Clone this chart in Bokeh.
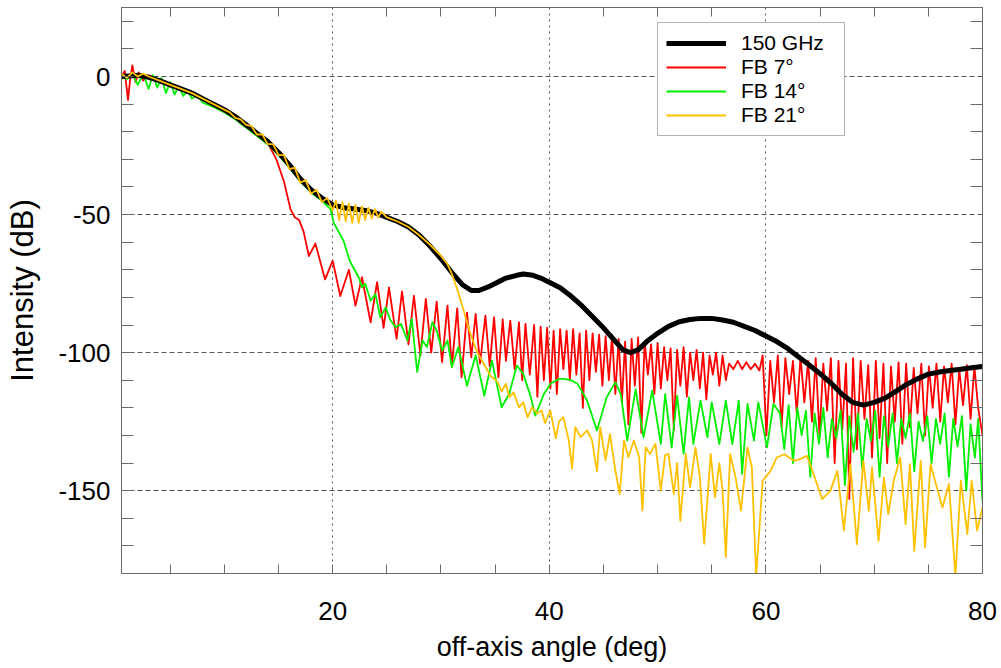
from bokeh.plotting import figure
from bokeh.models import (LinearAxis, Legend, LegendItem, SingleIntervalTicker,
                          FixedTicker, Range1d)
from bokeh.embed import file_html
from bokeh.resources import INLINE

# ---------------- data ----------------
black_pts = [(0.5, 0), (2, 0.5), (3, -0.3), (4, -1.5), (5, -3), (6, -4.5), (7, -6),
             (8, -8), (9, -10), (10, -12), (11, -14.5), (12, -17.5), (13, -20.5),
             (14, -23.5), (15, -27.5), (16, -32), (17, -37), (18, -41), (19, -44),
             (20, -46.5), (21, -47.5), (22, -48), (23, -48.5), (24, -49.5), (25, -51),
             (26, -52.5), (27, -54.5), (28, -57.5), (29, -61.5), (30, -66), (31, -71),
             (32, -75.5), (32.8, -77.5), (33.5, -77.5), (34.3, -76.3), (35, -75),
             (36, -73), (37, -72), (37.6, -71.5), (38.5, -72), (39.2, -73), (40, -74.5),
             (41, -76.5), (42, -79.5), (43, -83), (44, -87), (45, -91), (46, -95.5),
             (46.8, -99), (47.5, -100), (48.2, -99), (49, -96), (50, -93), (51, -90.5),
             (52, -88.8), (53, -88), (54, -87.6), (55, -87.6), (56, -88.2), (57, -89),
             (58, -90.5), (59, -92), (60, -94), (61, -96), (62, -98.5), (63, -101.5),
             (64, -104.5), (65, -107.6), (66, -111), (67, -115), (68, -118), (69, -119),
             (70, -118), (71, -116.5), (72, -114), (73, -111.5), (74, -109.5),
             (75, -107.8), (76, -107), (77, -106.5), (78, -106), (79, -105.5), (80, -105)]

red_pts = [(0.5, 0), (0.8, 2), (1.1, -8.5), (1.3, -1), (1.5, 4), (1.8, -2), (2.1, 1.5),
           (2.5, -1.5), (3.0, 0.5), (3.5, -0.5), (4, -1.5), (5, -3), (6, -4.5), (7, -6),
           (8, -8), (9, -10), (10, -12), (11, -14.5), (11.5, -17), (12, -17.5),
           (12.5, -19), (13, -20.5), (13.5, -22), (14, -24),
           (14.8, -30), (15.5, -38), (16.1, -48), (16.5, -51), (16.9, -52), (17.3, -56),
           (17.8, -65), (18.4, -60.5), (19.3, -73.5), (20.0, -66.7), (20.7, -79.5),
           (21.5, -70), (22.1, -83), (22.7, -72.7), (23.5, -89), (24.1, -74.5),
           (24.7, -91), (25.2, -76.4), (25.9, -95), (26.4, -77.8), (27.0, -97),
           (27.5, -79.4), (28.1, -101), (28.6, -80.5), (29.1, -100), (29.6, -81.5),
           (30.1, -103.5), (30.6, -83), (31.0, -105), (31.5, -84), (31.9, -109),
           (32.4, -85.5), (32.8, -101.7), (33.2, -86), (33.6, -104), (34.1, -86.6),
           (34.5, -105), (34.9, -87.2), (35.3, -109), (35.7, -88), (36.0, -103),
           (36.4, -88.4), (36.8, -106), (37.2, -89), (37.5, -110), (37.8, -89.6),
           (38.2, -108), (38.6, -90), (38.9, -116), (39.2, -90.6), (39.5, -110),
           (39.8, -91), (40.1, -113), (40.4, -92), (40.7, -115), (41.0, -91.5),
           (41.3, -106), (41.6, -92), (41.9, -110), (42.2, -91.5), (42.5, -108),
           (42.8, -93), (43.1, -120), (43.4, -92), (43.7, -110), (44.0, -93),
           (44.3, -107), (44.6, -93.5), (44.9, -112), (45.2, -94), (45.5, -110),
           (45.8, -93.5), (46.1, -115), (46.4, -95), (46.7, -118), (47.0, -96),
           (47.3, -126), (47.6, -95), (47.9, -112), (48.2, -94.5), (48.5, -129),
           (48.8, -96), (49.1, -108), (49.4, -97), (49.7, -115), (50.0, -96.5),
           (50.3, -113), (50.6, -98), (50.9, -110), (51.2, -98.5), (51.5, -128),
           (51.8, -99), (52.1, -112), (52.4, -98), (52.7, -116), (53.0, -100),
           (53.3, -110), (53.6, -99), (53.9, -113), (54.2, -100), (54.5, -117),
           (54.8, -101), (55.1, -108), (55.4, -100), (55.7, -112), (56.0, -101),
           (56.3, -110), (56.6, -104), (57.0, -106), (57.4, -103), (57.8, -106),
           (58.2, -103.5), (58.6, -106), (59.0, -104), (59.4, -106.5), (59.7, -101),
           (60.05, -130), (60.4, -103), (60.75, -118), (61.1, -101), (61.45, -127),
           (61.8, -102), (62.15, -115), (62.5, -103), (62.85, -122), (63.2, -101.5),
           (63.55, -118), (63.9, -103), (64.25, -125), (64.6, -102), (64.95, -130),
           (65.3, -104), (65.65, -121), (66.0, -102), (66.35, -140), (66.7, -103),
           (67.05, -128), (67.4, -104), (67.7, -153), (68.05, -102), (68.4, -135),
           (68.75, -103), (69.1, -124), (69.45, -104.5), (69.8, -138), (70.15, -103),
           (70.5, -131), (70.85, -104), (71.2, -140), (71.55, -105), (71.9, -125),
           (72.25, -103.5), (72.6, -133), (72.95, -104), (73.3, -127), (73.65, -105.5),
           (74.0, -122), (74.35, -104), (74.7, -130), (75.05, -105), (75.4, -120),
           (75.75, -104), (76.1, -125), (76.45, -105), (76.8, -118), (77.15, -104),
           (77.5, -126), (77.85, -106), (78.2, -119), (78.55, -104.5), (78.9, -124),
           (79.25, -105), (79.6, -120), (80.0, -130)]

green_pts = [(0.5, 0), (1.0, -1), (1.5, 1), (2.0, -3), (2.5, 1), (3.0, -4.5), (3.4, 0.5),
             (3.8, -4), (4.2, -0.5), (4.6, -6), (5.0, -2), (5.4, -6.5), (5.8, -3.5),
             (6.2, -7), (6.6, -5), (7.0, -8), (7.5, -6.5), (8.0, -9.5), (9, -11),
             (10, -13), (11, -15.5), (12, -18.5), (13, -21.5), (14, -24.5), (15, -28.5),
             (16, -33), (17, -38), (18, -42), (19, -45), (19.8, -48), (20.1, -53),
             (21, -59.5), (21.6, -67), (22.4, -72.7), (22.7, -76.3), (23.0, -75),
             (23.5, -81.2), (23.95, -78.8), (24.4, -87.2), (24.9, -83.6), (25.3, -88),
             (25.8, -90.8), (26.3, -89.6), (26.9, -95.6), (27.3, -87.8), (27.8, -107),
             (28.3, -95.6), (28.7, -98), (29.2, -89), (29.6, -92), (30.1, -99.3),
             (30.6, -95.6), (31.0, -105.3), (31.6, -98), (32.4, -112), (33.2, -101),
             (34.0, -115.6), (34.7, -102.9), (35.6, -119.8), (36.3, -115), (37.0, -104.7),
             (37.6, -107.7), (38.3, -116.2), (38.7, -122.8), (39.5, -115), (40.1, -111.3),
             (40.9, -109.5), (41.3, -109.5), (42.0, -110), (42.6, -111.3), (43.5, -117.4),
             (44.4, -128.2), (45.3, -116.2), (46.1, -110.7), (46.6, -115), (47.2, -131.9),
             (47.97, -113.2), (48.7, -130.7), (49.5, -113.8), (50.3, -133.1), (50.7, -115),
             (51.3, -134.3), (51.8, -115.6), (52.4, -136.7), (52.9, -116.2), (53.3, -133.1),
             (53.96, -117.4), (54.6, -130.7), (55.0, -118), (55.7, -133.1), (56.3, -117.4),
             (56.9, -133.1), (57.5, -117.4), (57.8, -143.9), (58.3, -118.6), (58.9, -131.9),
             (59.3, -118), (60.1, -134.3), (60.7, -118.6), (61.3, -122), (61.7, -135),
             (62.1, -119), (62.5, -140), (62.9, -120), (63.3, -130), (63.7, -121),
             (64.1, -145), (64.5, -122), (64.9, -133), (65.3, -120), (65.7, -138),
             (66.1, -124), (66.5, -131), (66.9, -121), (67.3, -148), (67.7, -123),
             (68.1, -136), (68.5, -122), (68.9, -142), (69.3, -124), (69.7, -132),
             (70.1, -121), (70.5, -145), (70.9, -123), (71.3, -134), (71.7, -122),
             (72.1, -140), (72.5, -124), (72.9, -131), (73.3, -122), (73.7, -143),
             (74.1, -125), (74.5, -132), (74.9, -123), (75.3, -140), (75.7, -124),
             (76.1, -133), (76.5, -122), (76.9, -145), (77.3, -124), (77.7, -134),
             (78.1, -123), (78.5, -150), (78.9, -126), (79.3, -138), (79.6, -124),
             (80.0, -154)]

yellow_pts = [(0.5, 1), (1.0, -0.5), (1.5, 1.5), (2.0, 0), (2.5, 1), (3, 0), (4, -1.5),
              (5, -3), (6, -4.5), (7, -6), (8, -8), (9, -10), (10, -12), (10.5, -13),
              (11, -15), (11.5, -15.5), (12, -17.5), (12.5, -18), (13, -21), (13.5, -21),
              (14, -24.5), (14.5, -24.5), (15, -28.5), (15.5, -28.5), (16, -33.5),
              (16.5, -33), (17, -38.5), (17.5, -37.5), (18, -42.5), (18.5, -41),
              (19, -45.5), (19.5, -44), (20.0, -48.5), (20.3, -45), (20.6, -52),
              (20.9, -45.5), (21.2, -52.5), (21.5, -46), (21.8, -53), (22.1, -46.5),
              (22.4, -53), (22.7, -47), (23.0, -52), (23.3, -47.5), (23.6, -51.5),
              (23.9, -48), (24.2, -51), (24.5, -49), (25, -51), (26, -52.5), (27, -54.5),
              (28, -57.5), (29, -61), (30, -65), (30.6, -68), (31.0, -71.5), (31.5, -77),
              (32.1, -84.8), (32.7, -93), (33.3, -99.5), (34.0, -104.5), (34.6, -108.5),
              (35.2, -110.5), (35.6, -114), (36.0, -111.3), (36.3, -116.2), (36.7, -114.4),
              (37.2, -119.8), (37.6, -118), (38.0, -123.5), (38.4, -119.8), (38.9, -122),
              (39.3, -121), (39.6, -125.5), (40.1, -121), (40.6, -131), (40.9, -125),
              (41.3, -123.4), (41.8, -131.8), (42.1, -142), (42.4, -127), (42.9, -130.6),
              (43.5, -128.2), (43.95, -131.8), (44.4, -143), (44.7, -127), (45.2, -139),
              (45.6, -129.4), (46.1, -142.7), (46.5, -151.2), (46.9, -131.8),
              (47.3, -137.9), (47.8, -131.8), (48.3, -137.9), (48.6, -157.2),
              (48.9, -134.3), (49.3, -136.7), (49.8, -133), (50.3, -150), (50.7, -137),
              (51.0, -136.7), (51.5, -151.2), (51.8, -140), (52.1, -160.9), (52.6, -136.7),
              (53.0, -148.8), (53.5, -134.3), (53.9, -145), (54.3, -169.3), (54.9, -136.7),
              (55.3, -152.4), (55.7, -140), (56.0, -150), (56.3, -174), (56.7, -136.7),
              (57.2, -145.2), (57.7, -157.2), (58.3, -134.3), (58.7, -141.5), (59.1, -181),
              (59.7, -146.4), (60.4, -143), (61.0, -138), (61.7, -136.8), (62.6, -139.2),
              (63.2, -138.5), (63.8, -137.4), (64.4, -144), (65.2, -153.1), (65.96, -150),
              (66.6, -142.8), (67.2, -164.5), (67.8, -140.4), (68.4, -169.4), (69.0, -139.2),
              (69.5, -157.3), (69.8, -141.6), (70.4, -168.2), (70.9, -145.2), (71.3, -158.5),
              (71.8, -146.4), (72.4, -138), (72.9, -162.1), (73.3, -140.4), (73.7, -171.8),
              (74.3, -139.2), (74.7, -170.6), (75.2, -140.4), (75.7, -147.6), (76.3, -156.1),
              (76.9, -147.6), (77.5, -181), (78.0, -146.4), (78.6, -165.7), (79.0, -146.4),
              (79.5, -164.5), (80.0, -156)]

series_labels = ["150 GHz", "FB 7°", "FB 14°", "FB 21°"]
x_major_step = 20
x_minor_step = 5
y_major_step = 50
y_minor_step = 10
y_tick_values = [0, -50, -100, -150]
y_tick_labels = ["0", "-50", "-100", "-150"]

# ---------------- figure ----------------
FONT = "Liberation Sans"
GRAY = "#6a6a6a"

p = figure(width=1001, height=668, output_backend="svg", toolbar_location=None,
           x_range=Range1d(0.5, 80), y_range=Range1d(-180, 25),
           min_border_left=121, min_border_right=19, min_border_top=7,
           min_border_bottom=95, background_fill_color="white",
           border_fill_color="white")
p.outline_line_color = GRAY
p.outline_line_width = 1


def xy(pts):
    return [a for a, _ in pts], [b for _, b in pts]


rx, ry = xy(red_pts)
gx, gy = xy(green_pts)
bx, by = xy(black_pts)
yx, yy = xy(yellow_pts)

r_red = p.line(rx, ry, line_color="#ff0000", line_width=1.8, line_join="round")
r_green = p.line(gx, gy, line_color="#00f000", line_width=1.8, line_join="round")
r_black = p.line(bx, by, line_color="black", line_width=5, line_join="round")
r_yel = p.line(yx, yy, line_color="#ffc000", line_width=1.8, line_join="round")


def style_axis(ax, tick_len):
    ax.axis_line_color = GRAY
    ax.major_tick_line_color = None
    ax.minor_tick_line_color = GRAY
    ax.minor_tick_in = tick_len
    ax.minor_tick_out = 0
    ax.major_tick_in = 0
    ax.major_tick_out = 0
    ax.major_label_text_font = FONT
    ax.major_label_text_font_size = "26px"
    ax.major_label_text_color = "black"
    ax.axis_label_text_font = FONT
    ax.axis_label_text_font_style = "normal"
    ax.axis_label_text_color = "black"


p.xaxis.ticker = SingleIntervalTicker(interval=x_major_step,
                                      num_minor_ticks=x_major_step // x_minor_step)
p.yaxis.ticker = SingleIntervalTicker(interval=y_major_step,
                                      num_minor_ticks=y_major_step // y_minor_step)
p.xaxis.axis_label = "off-axis angle (deg)"
p.yaxis.axis_label = "Intensity (dB)"
style_axis(p.xaxis[0], 9)
style_axis(p.yaxis[0], 12)
p.xaxis.axis_label_text_font_size = "27px"
p.yaxis.axis_label_text_font_size = "31px"
p.yaxis.major_label_overrides = dict(zip(y_tick_values, y_tick_labels))
p.xaxis.major_label_standoff = 28
p.xaxis.axis_label_standoff = 9
p.yaxis.major_label_standoff = 11
p.yaxis.axis_label_standoff = 15

# top and right axes: only the short inner minor ticks, no labels
top_minor = [v for v in range(0, 81, x_minor_step) if v % x_major_step]
right_minor = [v for v in range(-180, 26, y_minor_step) if v % y_major_step]
top_ax = LinearAxis(ticker=FixedTicker(ticks=[], minor_ticks=top_minor))
right_ax = LinearAxis(ticker=FixedTicker(ticks=[], minor_ticks=right_minor))
for ax, ln in ((top_ax, 9), (right_ax, 12)):
    style_axis(ax, ln)
    ax.major_label_standoff = 0
p.add_layout(top_ax, "above")
p.add_layout(right_ax, "right")

p.xgrid.grid_line_color = "#555555"
p.xgrid.grid_line_dash = "2 4"
p.xgrid.grid_line_width = 1
p.ygrid.grid_line_color = "#555555"
p.ygrid.grid_line_dash = "5 3"
p.ygrid.grid_line_width = 1

legend = Legend(items=[LegendItem(label=series_labels[0], renderers=[r_black]),
                       LegendItem(label=series_labels[1], renderers=[r_red]),
                       LegendItem(label=series_labels[2], renderers=[r_green]),
                       LegendItem(label=series_labels[3], renderers=[r_yel])],
                location=(536, 437))
legend.label_text_font = FONT
legend.label_text_font_size = "21px"
legend.label_text_color = "black"
legend.border_line_color = GRAY
legend.border_line_width = 1
legend.background_fill_color = "white"
legend.background_fill_alpha = 1
legend.glyph_width = 60
legend.glyph_height = 22
legend.label_height = 22
legend.label_width = 95
legend.label_standoff = 15
legend.spacing = 0
legend.padding = 8
legend.margin = 0
p.add_layout(legend)

open("out.html", "w").write(file_html(p, INLINE))
